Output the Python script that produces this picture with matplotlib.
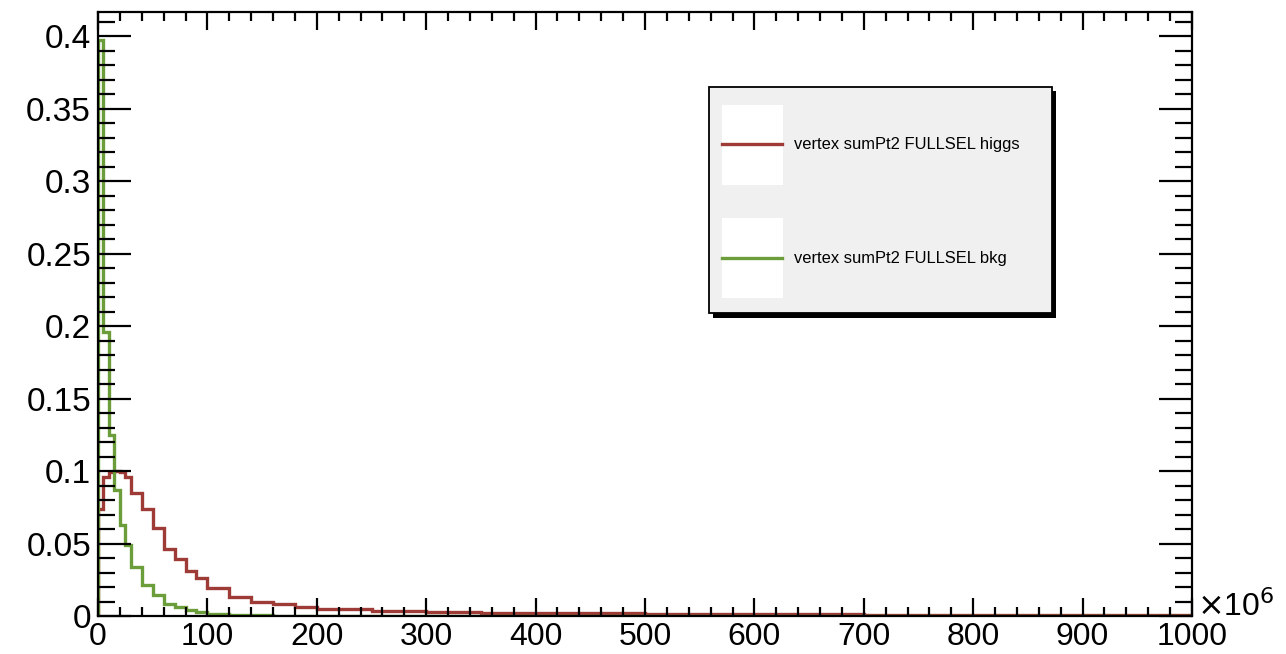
import matplotlib
matplotlib.use("Agg")
import matplotlib.pyplot as plt
from matplotlib.patches import Rectangle
from matplotlib.lines import Line2D
from matplotlib.ticker import MultipleLocator

# ---- data (x in units of 1e6) ----
bin_edges = [0, 5, 10, 15, 20, 25, 30, 40, 50, 60, 70, 80, 90, 100,
             120, 140, 160, 180, 200, 250, 300, 350, 400,
             500, 600, 700, 800, 900, 1000]
higgs_vals = [0.074, 0.096, 0.099, 0.100, 0.099, 0.096,
              0.085, 0.074, 0.061, 0.046, 0.039, 0.031, 0.026,
              0.019, 0.013, 0.010, 0.008, 0.006,
              0.0045, 0.0035, 0.0028, 0.0022,
              0.0018, 0.0014, 0.0011, 0.0009, 0.0007, 0.0005]
bkg_vals = [0.397, 0.196, 0.125, 0.087, 0.0626, 0.0488,
            0.034, 0.0212, 0.0143, 0.0086, 0.0063, 0.004, 0.0025,
            0.0015, 0.0008, 0.0004, 0.0002, 0.0001,
            0.00005, 0.00003, 0.00002, 0.00001,
            0.0, 0.0, 0.0, 0.0, 0.0, 0.0]
x_ticks = [0, 100, 200, 300, 400, 500, 600, 700, 800, 900, 1000]
x_labels = ["0", "100", "200", "300", "400", "500", "600", "700", "800", "900", "1000"]
y_ticks = [0, 0.05, 0.1, 0.15, 0.2, 0.25, 0.3, 0.35, 0.4]
y_labels = ["0", "0.05", "0.1", "0.15", "0.2", "0.25", "0.3", "0.35", "0.4"]
legend_labels = ["vertex sumPt2 FULLSEL higgs", "vertex sumPt2 FULLSEL bkg"]

RED = "#9e3b37"
GREEN = "#6b9e3a"

plt.rcParams["font.family"] = ["Liberation Sans", "DejaVu Sans"]

W, H = 1286, 654
fig = plt.figure(figsize=(W / 100, H / 100), dpi=100)
ax = fig.add_axes([98 / W, 1 - 616 / H, (1192 - 98) / W, (616 - 12) / H])

ax.stairs(higgs_vals, bin_edges, color=RED, linewidth=2.4)
ax.stairs(bkg_vals, bin_edges, color=GREEN, linewidth=2.4)

ax.set_xlim(0, 1000)
ax.set_ylim(0, 0.4166)
ax.set_xticks(x_ticks)
ax.set_xticklabels(x_labels)
ax.set_yticks(y_ticks)
ax.set_yticklabels(y_labels)
ax.xaxis.set_minor_locator(MultipleLocator(20))
ax.yaxis.set_minor_locator(MultipleLocator(0.01))
ax.tick_params(axis="both", which="both", direction="in", top=True, right=True,
               width=1.6, colors="black", labelsize=24)
ax.tick_params(axis="y", which="major", length=24, pad=5)
ax.tick_params(axis="y", which="minor", length=12)
ax.tick_params(axis="x", which="major", length=13, pad=4, labelsize=23)
ax.tick_params(axis="x", which="minor", length=6.5)
for s in ax.spines.values():
    s.set_linewidth(1.6)

# x10^6 exponent label
fig.text(1197 / W, 1 - 607 / H, r"$\times$10$^{6}$", fontsize=23, ha="left", va="center")

# ---- legend box (ROOT style with shadow) ----
def fx(px):
    return px / W

def fy(py):
    return 1 - py / H

shadow = Rectangle((fx(713), fy(318)), fx(1056) - fx(713), fy(91) - fy(318),
                   transform=fig.transFigure, facecolor="black", edgecolor="none", zorder=5)
box = Rectangle((fx(709), fy(313)), fx(1052) - fx(709), fy(87) - fy(313),
                transform=fig.transFigure, facecolor="#f0f0f0", edgecolor="black",
                linewidth=1.3, zorder=6)
fig.add_artist(shadow)
fig.add_artist(box)

entries = [(RED, 105, 185, 144), (GREEN, 218, 298, 258)]
for (col, y0, y1, yl), lab in zip(entries, legend_labels):
    fig.add_artist(Rectangle((fx(722), fy(y1)), fx(783) - fx(722), fy(y0) - fy(y1),
                             transform=fig.transFigure, facecolor="white",
                             edgecolor="none", zorder=7))
    fig.add_artist(Line2D([fx(722), fx(782)], [fy(yl), fy(yl)], transform=fig.transFigure,
                          color=col, linewidth=2.4, zorder=8))
    fig.text(fx(794), fy(yl), lab, fontsize=11.85, ha="left", va="center", zorder=8)

fig.savefig("out.png", dpi=100)
